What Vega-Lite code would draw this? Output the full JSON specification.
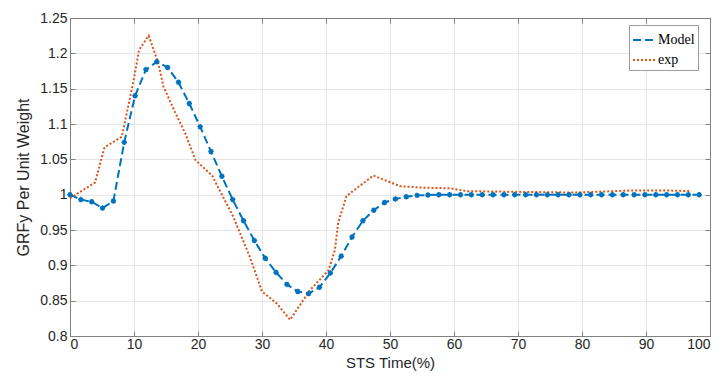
{
  "$schema": "https://vega.github.io/schema/vega-lite/v6.json",
  "width": 640,
  "height": 318,
  "autosize": {"type": "none"},
  "padding": {"left": 70, "top": 18, "right": 13, "bottom": 40},
  "background": "white",
  "config": {
    "view": {"stroke": "#808080", "strokeWidth": 1},
    "axis": {
      "labelFont": "Liberation Sans",
      "titleFont": "Liberation Sans",
      "labelFontSize": 14,
      "titleFontSize": 15,
      "titleFontWeight": "normal",
      "labelColor": "#262626",
      "titleColor": "#262626",
      "domainColor": "#808080",
      "tickColor": "#808080",
      "gridColor": "#e6e6e6",
      "gridWidth": 1
    }
  },
  "data": {
    "values": [
      {"t": 0, "grf": 1.0, "series": "Model"},
      {"t": 1.69, "grf": 0.993, "series": "Model"},
      {"t": 3.39, "grf": 0.99, "series": "Model"},
      {"t": 5.08, "grf": 0.981, "series": "Model"},
      {"t": 6.78, "grf": 0.991, "series": "Model"},
      {"t": 8.47, "grf": 1.074, "series": "Model"},
      {"t": 10.17, "grf": 1.14, "series": "Model"},
      {"t": 11.86, "grf": 1.177, "series": "Model"},
      {"t": 13.56, "grf": 1.188, "series": "Model"},
      {"t": 15.25, "grf": 1.18, "series": "Model"},
      {"t": 16.95, "grf": 1.159, "series": "Model"},
      {"t": 18.64, "grf": 1.129, "series": "Model"},
      {"t": 20.34, "grf": 1.096, "series": "Model"},
      {"t": 22.03, "grf": 1.061, "series": "Model"},
      {"t": 23.73, "grf": 1.026, "series": "Model"},
      {"t": 25.42, "grf": 0.993, "series": "Model"},
      {"t": 27.12, "grf": 0.963, "series": "Model"},
      {"t": 28.81, "grf": 0.935, "series": "Model"},
      {"t": 30.51, "grf": 0.91, "series": "Model"},
      {"t": 32.2, "grf": 0.89, "series": "Model"},
      {"t": 33.9, "grf": 0.873, "series": "Model"},
      {"t": 35.59, "grf": 0.863, "series": "Model"},
      {"t": 37.29, "grf": 0.86, "series": "Model"},
      {"t": 38.98, "grf": 0.869, "series": "Model"},
      {"t": 40.68, "grf": 0.889, "series": "Model"},
      {"t": 42.37, "grf": 0.913, "series": "Model"},
      {"t": 44.07, "grf": 0.94, "series": "Model"},
      {"t": 45.76, "grf": 0.963, "series": "Model"},
      {"t": 47.46, "grf": 0.978, "series": "Model"},
      {"t": 49.15, "grf": 0.989, "series": "Model"},
      {"t": 50.85, "grf": 0.994, "series": "Model"},
      {"t": 52.54, "grf": 0.997, "series": "Model"},
      {"t": 54.24, "grf": 0.999, "series": "Model"},
      {"t": 55.93, "grf": 0.9995, "series": "Model"},
      {"t": 57.63, "grf": 1.0, "series": "Model"},
      {"t": 59.32, "grf": 1.0, "series": "Model"},
      {"t": 61.02, "grf": 1.0, "series": "Model"},
      {"t": 62.71, "grf": 1.0, "series": "Model"},
      {"t": 64.41, "grf": 1.0, "series": "Model"},
      {"t": 66.1, "grf": 1.0, "series": "Model"},
      {"t": 67.8, "grf": 1.0, "series": "Model"},
      {"t": 69.49, "grf": 1.0, "series": "Model"},
      {"t": 71.19, "grf": 1.0, "series": "Model"},
      {"t": 72.88, "grf": 1.0, "series": "Model"},
      {"t": 74.58, "grf": 1.0, "series": "Model"},
      {"t": 76.27, "grf": 1.0, "series": "Model"},
      {"t": 77.97, "grf": 1.0, "series": "Model"},
      {"t": 79.66, "grf": 1.0, "series": "Model"},
      {"t": 81.36, "grf": 1.0, "series": "Model"},
      {"t": 83.05, "grf": 1.0, "series": "Model"},
      {"t": 84.75, "grf": 1.0, "series": "Model"},
      {"t": 86.44, "grf": 1.0, "series": "Model"},
      {"t": 88.14, "grf": 1.0, "series": "Model"},
      {"t": 89.83, "grf": 1.0, "series": "Model"},
      {"t": 91.53, "grf": 1.0, "series": "Model"},
      {"t": 93.22, "grf": 1.0, "series": "Model"},
      {"t": 94.92, "grf": 1.0, "series": "Model"},
      {"t": 96.61, "grf": 1.0, "series": "Model"},
      {"t": 98.31, "grf": 1.0, "series": "Model"},
      {"t": 0, "grf": 0.995, "series": "exp"},
      {"t": 3.9, "grf": 1.017, "series": "exp"},
      {"t": 5.4, "grf": 1.067, "series": "exp"},
      {"t": 8.1, "grf": 1.082, "series": "exp"},
      {"t": 9.9, "grf": 1.16, "series": "exp"},
      {"t": 10.8, "grf": 1.205, "series": "exp"},
      {"t": 12.3, "grf": 1.225, "series": "exp"},
      {"t": 13.8, "grf": 1.186, "series": "exp"},
      {"t": 14.6, "grf": 1.153, "series": "exp"},
      {"t": 16.4, "grf": 1.117, "series": "exp"},
      {"t": 18.0, "grf": 1.087, "series": "exp"},
      {"t": 19.6, "grf": 1.049, "series": "exp"},
      {"t": 22.2, "grf": 1.027, "series": "exp"},
      {"t": 25.5, "grf": 0.969, "series": "exp"},
      {"t": 28.1, "grf": 0.912, "series": "exp"},
      {"t": 30.0, "grf": 0.863, "series": "exp"},
      {"t": 32.3, "grf": 0.846, "series": "exp"},
      {"t": 34.4, "grf": 0.823, "series": "exp"},
      {"t": 37.5, "grf": 0.865, "series": "exp"},
      {"t": 40.4, "grf": 0.893, "series": "exp"},
      {"t": 41.4, "grf": 0.922, "series": "exp"},
      {"t": 41.9, "grf": 0.96, "series": "exp"},
      {"t": 43.2, "grf": 0.998, "series": "exp"},
      {"t": 45.2, "grf": 1.012, "series": "exp"},
      {"t": 47.4, "grf": 1.027, "series": "exp"},
      {"t": 51.6, "grf": 1.012, "series": "exp"},
      {"t": 55.0, "grf": 1.01, "series": "exp"},
      {"t": 59.4, "grf": 1.009, "series": "exp"},
      {"t": 62.0, "grf": 1.005, "series": "exp"},
      {"t": 70.0, "grf": 1.004, "series": "exp"},
      {"t": 79.0, "grf": 1.003, "series": "exp"},
      {"t": 88.0, "grf": 1.006, "series": "exp"},
      {"t": 93.0, "grf": 1.006, "series": "exp"},
      {"t": 97.0, "grf": 1.005, "series": "exp"}
    ]
  },
  "resolve": {"axis": {"x": "independent", "y": "independent"}},
  "layer": [
    {
      "mark": {"type": "line", "strokeWidth": 2, "clip": true},
      "encoding": {
        "x": {
          "field": "t", "type": "quantitative",
          "scale": {"domain": [0, 100], "nice": false},
          "axis": {
            "title": "STS Time(%)",
            "values": [0, 10, 20, 30, 40, 50, 60, 70, 80, 90, 100],
            "tickSize": -5,
            "labelPadding": 6,
            "titlePadding": 4,
            "domain": true,
            "grid": true
          }
        },
        "y": {
          "field": "grf", "type": "quantitative",
          "scale": {"domain": [0.8, 1.25], "nice": false, "zero": false},
          "axis": {
            "title": "GRFy Per Unit Weight",
            "titleFontSize": 16,
            "values": [0.8, 0.85, 0.9, 0.95, 1.0, 1.05, 1.1, 1.15, 1.2, 1.25],
            "labelExpr": "format(datum.value, '.2~f')",
            "tickSize": -5,
            "labelPadding": 8,
            "titlePadding": 8,
            "grid": true
          }
        },
        "color": {
          "field": "series", "type": "nominal",
          "scale": {"domain": ["Model", "exp"], "range": ["#0072BD", "#D95319"]},
          "legend": {
            "title": null,
            "orient": "none",
            "legendX": 559,
            "legendY": 7,
            "labelFont": "Liberation Serif",
            "labelFontSize": 14,
            "labelColor": "#000000",
            "symbolType": "stroke",
            "symbolSize": 484,
            "symbolStrokeWidth": 2,
            "strokeColor": "#a0a0a0",
            "fillColor": "white",
            "padding": 3,
            "rowPadding": 1,
            "labelOffset": 2
          }
        },
        "strokeDash": {
          "field": "series", "type": "nominal",
          "scale": {"domain": ["Model", "exp"], "range": [[8, 4], [2, 2]]},
          "legend": null
        }
      }
    },
    {
      "transform": [{"filter": "datum.series === 'Model'"}],
      "mark": {
        "type": "point",
        "shape": "M-1,0L1,0M0,-1L0,1M-0.7,-0.7L0.7,0.7M-0.7,0.7L0.7,-0.7",
        "filled": false,
        "stroke": "#0072BD",
        "strokeWidth": 1.5,
        "size": 30,
        "opacity": 1
      },
      "encoding": {
        "x": {"field": "t", "type": "quantitative", "axis": null},
        "y": {"field": "grf", "type": "quantitative", "axis": null}
      }
    },
    {
      "transform": [{"filter": "datum.series === 'exp'"}],
      "mark": {"type": "line", "strokeWidth": 0, "opacity": 0},
      "encoding": {
        "x": {
          "field": "t", "type": "quantitative",
          "axis": {"orient": "top", "labels": false, "title": null, "grid": false, "tickSize": -5, "values": [0, 10, 20, 30, 40, 50, 60, 70, 80, 90, 100]}
        },
        "y": {
          "field": "grf", "type": "quantitative",
          "axis": {"orient": "right", "labels": false, "title": null, "grid": false, "tickSize": -5, "values": [0.8, 0.85, 0.9, 0.95, 1.0, 1.05, 1.1, 1.15, 1.2, 1.25]}
        }
      }
    }
  ]
}
